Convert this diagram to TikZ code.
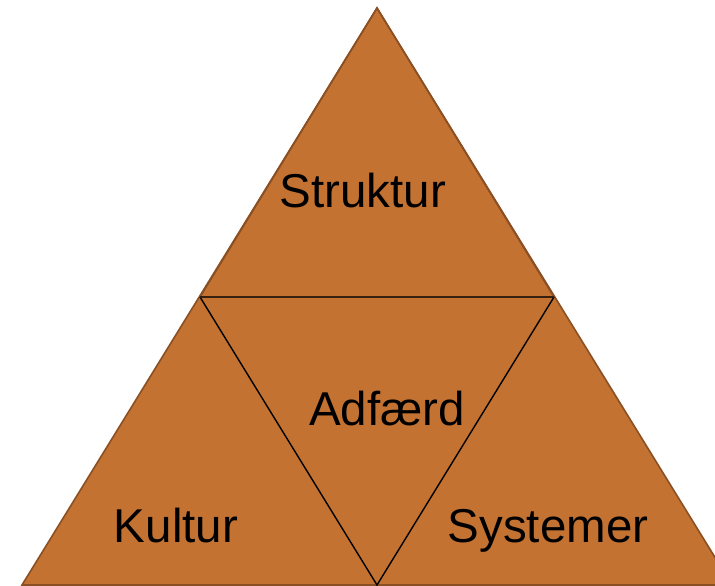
\documentclass[tikz,border=0pt]{standalone}
\usepackage{fontspec}
\setmainfont{Liberation Sans}
\definecolor{fillbrown}{HTML}{C37232}
\definecolor{edgebrown}{HTML}{8A4F22}
\begin{document}
\begin{tikzpicture}[x=1pt,y=-1pt,
  outer/.style={fill=fillbrown,draw=edgebrown,line width=1.6pt,line join=miter},
  inner/.style={draw=black,line width=1.4pt},
  lbl/.style={font=\fontsize{47.5}{52}\selectfont,text=black,inner sep=0pt,anchor=base}]
\useasboundingbox (0,0) rectangle (715,586);
\clip (0,0) rectangle (715,586);
\coordinate (A) at (377,8);
\coordinate (L) at (22,585);
\coordinate (R) at (732,585);
\coordinate (ML) at (200,297);
\coordinate (MR) at (554,297);
\coordinate (MB) at (377,585);
\draw[outer] (A) -- (L) -- (R) -- cycle;
\draw[draw=edgebrown,line width=1.6pt] (A) -- (ML) -- (MR) -- cycle;
\draw[inner] (ML) -- (MB) -- (MR);
\draw[draw=black!60!edgebrown,line width=1.6pt] (ML) -- (MR);
\node[lbl] (s) at (363,207) {Struktur};
\node[lbl] (a) at (387,425) {Adfærd};
\node[lbl] (k) at (176,542) {Kultur};
\node[lbl] (y) at (548,542) {Systemer};
\end{tikzpicture}
\end{document}
